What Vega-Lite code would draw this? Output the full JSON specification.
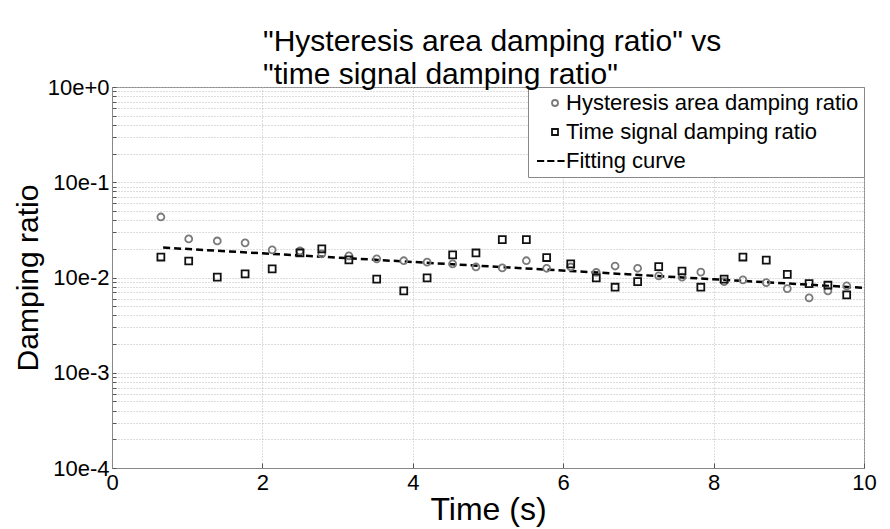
{
  "$schema": "https://vega.github.io/schema/vega-lite/v6.json",
  "width": 752,
  "height": 381,
  "autosize": "none",
  "padding": {"left": 112, "top": 87, "right": 26, "bottom": 61},
  "background": "white",
  "config": {
    "font": "Liberation Sans",
    "view": {"stroke": "#888", "strokeWidth": 1},
    "axis": {"labelFont": "Liberation Sans", "titleFont": "Liberation Sans", "labelColor": "#000", "titleColor": "#000", "titleFontWeight": "normal", "domainColor": "#888", "tickColor": "#555", "gridColor": "#bbb", "gridDash": [1, 2], "gridWidth": 1}
  },
  "title": {
    "text": ["\"Hysteresis area damping ratio\" vs", "\u2002\"time signal damping ratio\""],
    "fontSize": 30,
    "fontWeight": "normal",
    "font": "Liberation Sans",
    "color": "#000",
    "lineHeight": 33,
    "offset": -14,
    "anchor": "start",
    "frame": "group",
    "align": "left",
    "dx": 151
  },
  "datasets": {
    "pts": [
      {"t": 0.65, "v": 0.0432, "series": "Hysteresis area damping ratio"},
      {"t": 1.02, "v": 0.0254, "series": "Hysteresis area damping ratio"},
      {"t": 1.40, "v": 0.0242, "series": "Hysteresis area damping ratio"},
      {"t": 1.77, "v": 0.0231, "series": "Hysteresis area damping ratio"},
      {"t": 2.13, "v": 0.0195, "series": "Hysteresis area damping ratio"},
      {"t": 2.50, "v": 0.0190, "series": "Hysteresis area damping ratio"},
      {"t": 2.79, "v": 0.0177, "series": "Hysteresis area damping ratio"},
      {"t": 3.15, "v": 0.0169, "series": "Hysteresis area damping ratio"},
      {"t": 3.52, "v": 0.0157, "series": "Hysteresis area damping ratio"},
      {"t": 3.88, "v": 0.0150, "series": "Hysteresis area damping ratio"},
      {"t": 4.19, "v": 0.0145, "series": "Hysteresis area damping ratio"},
      {"t": 4.53, "v": 0.0139, "series": "Hysteresis area damping ratio"},
      {"t": 4.84, "v": 0.0129, "series": "Hysteresis area damping ratio"},
      {"t": 5.19, "v": 0.0126, "series": "Hysteresis area damping ratio"},
      {"t": 5.51, "v": 0.0150, "series": "Hysteresis area damping ratio"},
      {"t": 5.78, "v": 0.0125, "series": "Hysteresis area damping ratio"},
      {"t": 6.10, "v": 0.0129, "series": "Hysteresis area damping ratio"},
      {"t": 6.44, "v": 0.0113, "series": "Hysteresis area damping ratio"},
      {"t": 6.69, "v": 0.0132, "series": "Hysteresis area damping ratio"},
      {"t": 6.99, "v": 0.0125, "series": "Hysteresis area damping ratio"},
      {"t": 7.27, "v": 0.0104, "series": "Hysteresis area damping ratio"},
      {"t": 7.58, "v": 0.0101, "series": "Hysteresis area damping ratio"},
      {"t": 7.83, "v": 0.0114, "series": "Hysteresis area damping ratio"},
      {"t": 8.14, "v": 0.00906, "series": "Hysteresis area damping ratio"},
      {"t": 8.39, "v": 0.00944, "series": "Hysteresis area damping ratio"},
      {"t": 8.70, "v": 0.00884, "series": "Hysteresis area damping ratio"},
      {"t": 8.98, "v": 0.00764, "series": "Hysteresis area damping ratio"},
      {"t": 9.27, "v": 0.00611, "series": "Hysteresis area damping ratio"},
      {"t": 9.52, "v": 0.00723, "series": "Hysteresis area damping ratio"},
      {"t": 9.77, "v": 0.00816, "series": "Hysteresis area damping ratio"},
      {"t": 0.65, "v": 0.0164, "series": "Time signal damping ratio"},
      {"t": 1.02, "v": 0.0149, "series": "Time signal damping ratio"},
      {"t": 1.40, "v": 0.0101, "series": "Time signal damping ratio"},
      {"t": 1.77, "v": 0.0109, "series": "Time signal damping ratio"},
      {"t": 2.13, "v": 0.0123, "series": "Time signal damping ratio"},
      {"t": 2.50, "v": 0.0181, "series": "Time signal damping ratio"},
      {"t": 2.79, "v": 0.0200, "series": "Time signal damping ratio"},
      {"t": 3.15, "v": 0.0153, "series": "Time signal damping ratio"},
      {"t": 3.52, "v": 0.00960, "series": "Time signal damping ratio"},
      {"t": 3.88, "v": 0.00723, "series": "Time signal damping ratio"},
      {"t": 4.19, "v": 0.00991, "series": "Time signal damping ratio"},
      {"t": 4.53, "v": 0.0173, "series": "Time signal damping ratio"},
      {"t": 4.84, "v": 0.0181, "series": "Time signal damping ratio"},
      {"t": 5.19, "v": 0.0250, "series": "Time signal damping ratio"},
      {"t": 5.51, "v": 0.0250, "series": "Time signal damping ratio"},
      {"t": 5.78, "v": 0.0162, "series": "Time signal damping ratio"},
      {"t": 6.10, "v": 0.0139, "series": "Time signal damping ratio"},
      {"t": 6.44, "v": 0.00991, "series": "Time signal damping ratio"},
      {"t": 6.69, "v": 0.00791, "series": "Time signal damping ratio"},
      {"t": 6.99, "v": 0.00906, "series": "Time signal damping ratio"},
      {"t": 7.27, "v": 0.0130, "series": "Time signal damping ratio"},
      {"t": 7.58, "v": 0.0117, "series": "Time signal damping ratio"},
      {"t": 7.83, "v": 0.00791, "series": "Time signal damping ratio"},
      {"t": 8.14, "v": 0.00960, "series": "Time signal damping ratio"},
      {"t": 8.39, "v": 0.0164, "series": "Time signal damping ratio"},
      {"t": 8.70, "v": 0.0152, "series": "Time signal damping ratio"},
      {"t": 8.98, "v": 0.0108, "series": "Time signal damping ratio"},
      {"t": 9.27, "v": 0.00863, "series": "Time signal damping ratio"},
      {"t": 9.52, "v": 0.00830, "series": "Time signal damping ratio"},
      {"t": 9.77, "v": 0.00657, "series": "Time signal damping ratio"}
    ],
    "fit": [
      {"t": 0.68, "v": 0.0206},
      {"t": 10, "v": 0.00778}
    ]
  },
  "layer": [
    {
      "data": {"name": "fit"},
      "mark": {"type": "line", "color": "#000", "strokeWidth": 2.5, "strokeDash": [7, 4]},
      "encoding": {
        "x": {"field": "t", "type": "quantitative"},
        "y": {"field": "v", "type": "quantitative"}
      }
    },
    {
      "data": {"name": "pts"},
      "mark": {"type": "point", "filled": false, "size": 48, "strokeWidth": 1.8, "opacity": 1},
      "encoding": {
        "x": {
          "field": "t", "type": "quantitative",
          "scale": {"domain": [0, 10], "nice": false},
          "axis": {"values": [0, 2, 4, 6, 8, 10], "format": "d", "title": "Time (s)", "titleFontSize": 32, "labelFontSize": 22, "labelPadding": 9, "tickSize": -5, "titlePadding": 1, "grid": true, "labelFlush": false}
        },
        "y": {
          "field": "v", "type": "quantitative",
          "scale": {"type": "log", "domain": [0.0001, 1], "nice": false},
          "axis": {
            "values": [0.0001, 0.0002, 0.0003, 0.0004, 0.0005, 0.0006, 0.0007, 0.0008, 0.0009, 0.001, 0.002, 0.003, 0.004, 0.005, 0.006, 0.007, 0.008, 0.009, 0.01, 0.02, 0.03, 0.04, 0.05, 0.06, 0.07, 0.08, 0.09, 0.1, 0.2, 0.3, 0.4, 0.5, 0.6, 0.7, 0.8, 0.9, 1],
            "labelExpr": "abs(log(datum.value)/LN10 - round(log(datum.value)/LN10)) < 0.000001 ? '10e' + (round(log(datum.value)/LN10) >= 0 ? '+' : '') + round(log(datum.value)/LN10) : ''",
            "labelOverlap": false,
            "labelFontSize": 22,
            "labelPadding": 7,
            "tickSize": -4,
            "title": "Damping ratio",
            "titleFontSize": 30,
            "titlePadding": 4,
            "grid": true,
            "labelFlush": false
          }
        },
        "shape": {
          "field": "series", "type": "nominal",
          "scale": {"domain": ["Hysteresis area damping ratio", "Time signal damping ratio", "Fitting curve"], "range": ["circle", "square", "M-6,0H-3.6M-2.6,0H-0.2M0.8,0H3.2"]},
          "legend": {
            "title": null, "orient": "top-right", "offset": 0,
            "strokeColor": "#888", "fillColor": "white", "padding": 5,
            "labelFontSize": 22, "labelFont": "Liberation Sans", "labelColor": "#000", "labelLimit": 500,
            "symbolSize": 36, "symbolStrokeWidth": 1.8, "symbolOffset": 11, "labelOffset": 0, "rowPadding": 7
          }
        },
        "color": {
          "field": "series", "type": "nominal",
          "scale": {"domain": ["Hysteresis area damping ratio", "Time signal damping ratio", "Fitting curve"], "range": ["#7a7a7a", "#111111", "#000000"]},
          "legend": {
            "title": null, "orient": "top-right", "offset": 0,
            "strokeColor": "#888", "fillColor": "white", "padding": 5,
            "labelFontSize": 22, "labelFont": "Liberation Sans", "labelColor": "#000", "labelLimit": 500,
            "symbolSize": 36, "symbolStrokeWidth": 1.8, "symbolOffset": 11, "labelOffset": 0, "rowPadding": 7
          }
        }
      }
    }
  ]
}
